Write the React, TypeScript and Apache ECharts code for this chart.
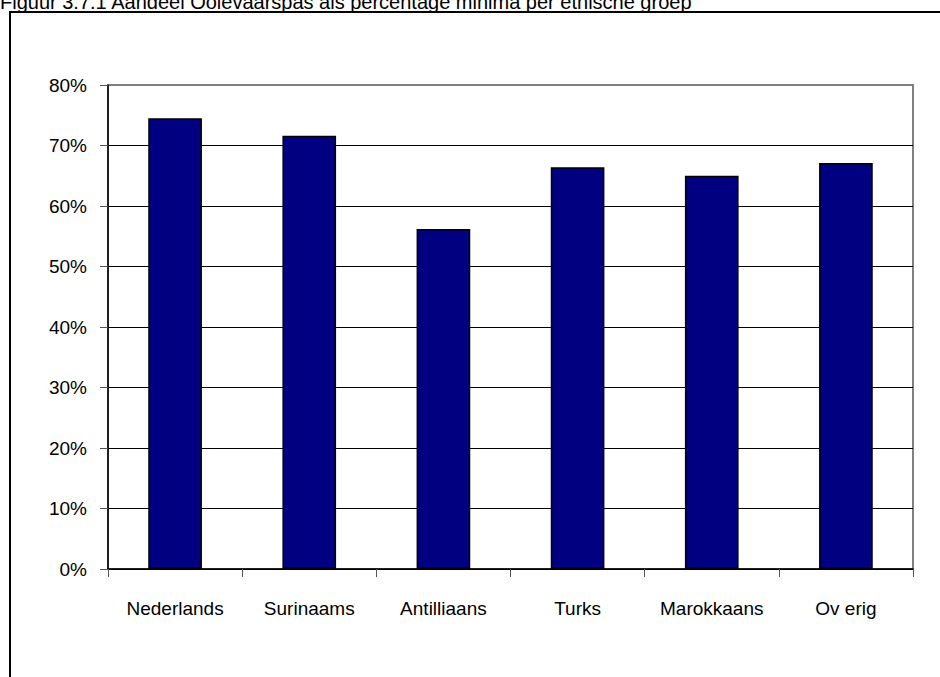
import React, { useEffect, useRef } from "react";
import * as echarts from "echarts";

const categories = ["Nederlands", "Surinaams", "Antilliaans", "Turks", "Marokkaans", "Ov erig"];
const values = [74.5, 71.6, 56.2, 66.4, 65.0, 67.1];
const titleText = "Figuur 3.7.1 Aandeel Ooievaarspas als percentage minima per etnische groep";

const FONT = "'Liberation Sans', Arial, sans-serif";

export default function App() {
  const ref = useRef<HTMLDivElement>(null);
  useEffect(() => {
    if (!ref.current) return;
    const chart = echarts.init(ref.current, undefined, { renderer: "svg" });
    const splitColors = ["#000", "#000", "#000", "#000", "#000", "#000", "#000", "#000", "#808080"];
    chart.setOption({
      animation: false,
      backgroundColor: "#fff",
      textStyle: { fontFamily: FONT },
      graphic: [
        {
          type: "text",
          left: 0,
          top: -8,
          style: { text: titleText, fontSize: 20, fontFamily: FONT, fill: "#000" },
        },
        {
          type: "rect",
          shape: { x: 10, y: 12, width: 1000, height: 1000 },
          style: { fill: "none", stroke: "#000", lineWidth: 2 },
        },
      ],
      grid: {
        left: 108,
        right: 27,
        top: 85,
        bottom: 108,
        show: true,
        borderColor: "#808080",
        borderWidth: 2,
        containLabel: false,
      },
      xAxis: {
        type: "category",
        data: categories,
        axisLine: { lineStyle: { color: "#000", width: 1.5 } },
        axisTick: { show: true, length: 8, alignWithLabel: false, lineStyle: { color: "#555" } },
        axisLabel: { color: "#000", fontSize: 19, fontFamily: FONT, margin: 30, interval: 0 },
      },
      yAxis: {
        type: "value",
        min: 0,
        max: 80,
        interval: 10,
        axisLine: { show: true, lineStyle: { color: "#000", width: 1.5 } },
        axisTick: { show: true, length: 8, lineStyle: { color: "#555" } },
        axisLabel: { color: "#000", fontSize: 19, fontFamily: FONT, margin: 21, formatter: "{value}%" },
        splitLine: { show: true, lineStyle: { color: splitColors, width: 1 } },
      },
      series: [
        {
          type: "bar",
          data: values,
          barWidth: "40%",
          itemStyle: { color: "#000080", borderColor: "#000", borderWidth: 1.5 },
        },
      ],
    });
    return () => chart.dispose();
  }, []);
  return (
    <div
      ref={ref}
      style={{ position: "fixed", left: 0, top: 0, width: 940, height: 677 }}
    />
  );
}
